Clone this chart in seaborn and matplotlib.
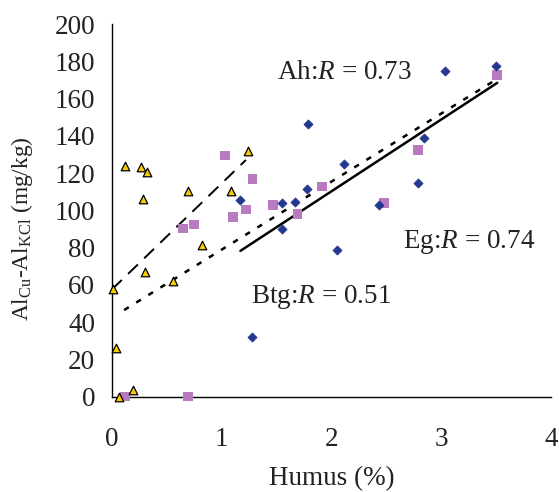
import matplotlib
matplotlib.use("Agg")
import matplotlib.pyplot as plt
import seaborn as sns
import numpy as np
import pandas as pd

# --- data ---
ah_x = [1.17, 1.28, 1.79, 2.11, 1.78, 1.55, 1.67, 1.55, 2.05, 2.43, 3.03, 3.50, 2.84, 2.79]
ah_y = [105.6, 31.9, 146.1, 124.8, 111.5, 104.0, 104.4, 90.0, 78.8, 102.6, 174.8, 177.2, 138.7, 114.6]

eg_x = [1.03, 1.28, 0.65, 0.75, 1.10, 1.22, 1.47, 0.12, 0.69, 1.91, 1.69, 2.48, 3.51, 2.79]
eg_y = [129.4, 116.7, 90.2, 92.4, 96.3, 100.4, 102.9, 0.0, 0.0, 112.8, 97.8, 104.0, 172.5, 132.3]

btg_x = [0.12, 0.26, 0.32, 0.28, 1.24, 0.69, 1.08, 0.82, 0.30, 0.56, 0.01, 0.04, 0.06, 0.19]
btg_y = [124.0, 123.0, 120.3, 106.3, 131.9, 110.3, 110.1, 81.1, 66.6, 62.1, 57.7, 26.0, 0.0, 3.5]

# trend lines (endpoints)
ah_trend_x = [1.17, 3.51]
ah_trend_y = [78.2, 168.4]
eg_trend_x = [0.11, 3.49]
eg_trend_y = [46.4, 169.8]
btg_trend_x = [0.0, 1.22]
btg_trend_y = [57.5, 127.0]

labels = ["Ah:", "Eg:", "Btg:"]
r_values = ["0.73", "0.74", "0.51"]
label_pos = [(1.50, 174), (2.65, 83), (1.27, 53.5)]

x_ticks = [0, 1, 2, 3, 4]
y_ticks = list(range(0, 201, 20))

sns.set_theme(style="white")
plt.rcParams["font.family"] = ["Liberation Serif", "DejaVu Serif"]
plt.rcParams["mathtext.fontset"] = "custom"
plt.rcParams["mathtext.rm"] = "Liberation Serif"
plt.rcParams["mathtext.it"] = "Liberation Serif:italic"

fig = plt.figure(figsize=(5.59, 4.92), dpi=100)
ax = fig.add_axes([0.2004, 0.1941, 0.7853, 0.7571])

fs = 19.5

df_ah = pd.DataFrame({"x": ah_x, "y": ah_y})
df_eg = pd.DataFrame({"x": eg_x, "y": eg_y})
df_btg = pd.DataFrame({"x": btg_x, "y": btg_y})

sns.lineplot(x=ah_trend_x, y=ah_trend_y, ax=ax, color="black", lw=1.8, zorder=2)
sns.lineplot(x=eg_trend_x, y=eg_trend_y, ax=ax, color="black", lw=1.8, zorder=2)
ax.lines[-1].set_dashes([2.2, 3.5])
sns.lineplot(x=btg_trend_x, y=btg_trend_y, ax=ax, color="black", lw=1.4, zorder=2)
ax.lines[-1].set_dashes([7, 4.5])

sns.scatterplot(data=df_ah, x="x", y="y", ax=ax, marker="D", s=22, color="#24378F",
                edgecolor="#24378F", linewidth=0.5, zorder=4, clip_on=False)
sns.scatterplot(data=df_eg, x="x", y="y", ax=ax, marker="s", s=50, color="#B97BBF",
                edgecolor="none", linewidth=0, zorder=3, clip_on=False)
sns.scatterplot(data=df_btg, x="x", y="y", ax=ax, marker="^", s=38, color="#F7CC00",
                edgecolor="black", linewidth=0.9, zorder=3, clip_on=False)

for lab, r, (tx, ty) in zip(labels, r_values, label_pos):
    ax.text(tx, ty, lab + r"$R$" + " = " + r, fontsize=fs, va="center", ha="left", color="#222222")

ax.set_xlim(0, 4)
ax.set_ylim(0, 200)
ax.set_xticks(x_ticks)
ax.set_yticks(y_ticks)
ax.set_xticklabels([str(t) for t in x_ticks], fontsize=fs, color="#222222")
ax.set_yticklabels([str(t) for t in y_ticks], fontsize=fs, color="#222222")
ax.tick_params(axis="both", direction="out", length=8, width=1, color="black", pad=14)
ax.tick_params(axis="y", pad=4)
for s in ["top", "right"]:
    ax.spines[s].set_visible(False)
for s in ["left", "bottom"]:
    ax.spines[s].set_color("black")
    ax.spines[s].set_linewidth(1)
ax.set_xlabel("Humus (%)", fontsize=fs, color="#222222", labelpad=10)
ax.set_ylabel(r"Al$_{\mathrm{Cu}}$-Al$_{\mathrm{KCl}}$ (mg/kg)", fontsize=16.8, color="#222222")
ax.yaxis.set_label_coords(-0.175, 0.45)
ax.grid(False)

fig.savefig("out.png", dpi=100)
